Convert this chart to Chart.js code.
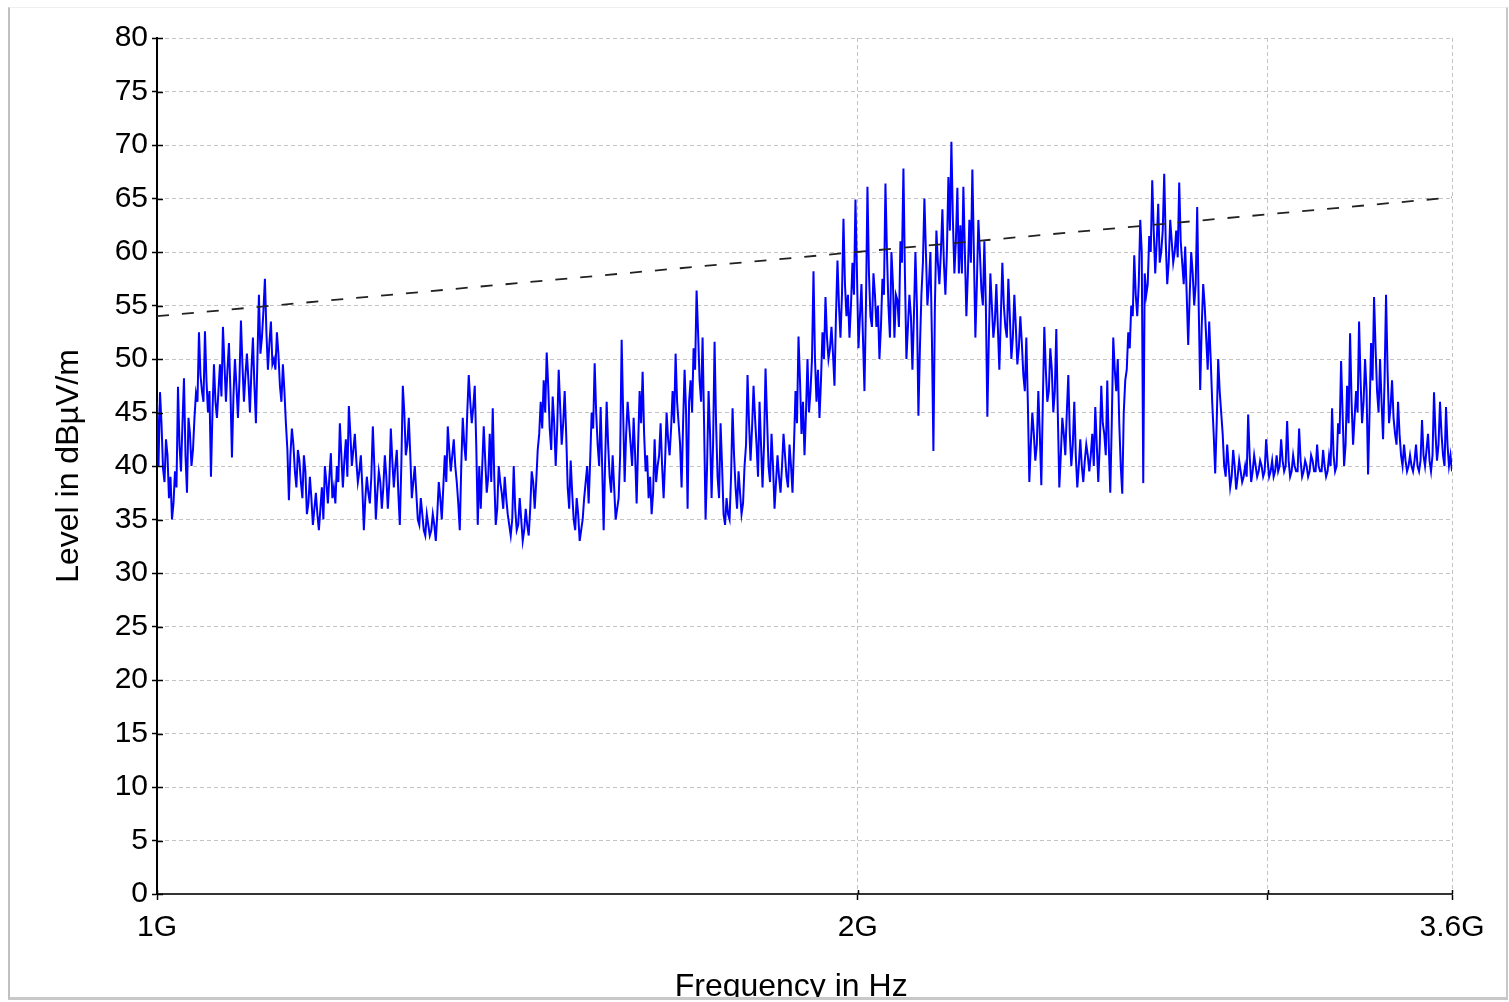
<!DOCTYPE html>
<html>
<head>
<meta charset="utf-8">
<title>Level vs frequency</title>
<script src="https://cdn.jsdelivr.net/npm/chart.js@4.4.1/dist/chart.umd.min.js"></script>
<style>
  html, body { margin: 0; padding: 0; background: #fff; overflow: hidden; }
  #clip { position: absolute; left: 0; top: 0; width: 1509px; height: 997px; overflow: hidden; }
  #frame {
    position: absolute; left: 8px; top: 7px; width: 1496px; height: 989px;
    border-left: 2px solid #c0c0c0; border-right: 2px solid #c8c8c8;
    border-bottom: 3px solid #c8c8c8; border-top: 1px solid #eeeeee;
    pointer-events: none;
  }
</style>
</head>
<body>
<div id="clip"><canvas id="levelChart" width="1509" height="1006"></canvas></div>
<div id="frame"></div>
<script>
// sweep 1 GHz .. 3.6 GHz, log spaced points
const fStart = 1e9;
const fStop = 3.6e9;

const levels = [
  // 1.00 - 1.16 GHz
  46, 46.9, 39.8, 42.5, 37, 35, 39.5, 47.4, 39.5, 48.2,
  37.5, 43, 41.5, 46.8, 52.5, 47, 52.6, 45, 39, 49.5,
  44.5, 49.5, 53, 46, 51.5, 40.8, 50, 44.5, 53.6, 46,
  50.5, 45, 52, 44, 56, 52, 57.5, 49, 53.5, 50,
  52.5, 47.5, 49.5, 44, 36.8, 43.5, 39.5, 41.5, 38.5, 41,
  35.5, 39, 34.5, 37.5, 34,
  // 1.16 - 1.33 GHz
  38, 40, 36.5, 41.2, 38, 40, 44, 38, 42.5, 45.6,
  40, 43, 38.5, 41, 34, 39, 36.5, 43.7, 35, 39.5,
  36, 41, 36, 43.5, 38, 41.5, 34.5, 47.5, 41, 44.5,
  37, 40, 35, 37, 34, 35.5, 33.5, 35.5, 33, 38.5,
  35, 41, 43.7, 39.5, 42.5, 38.5, 34, 44.5, 40.5, 48.5,
  44, 47.5, 34.5,
  // 1.33 - 1.54 GHz
  36, 43.7, 37.5, 43, 45.4, 34.5, 40, 37.5, 39, 35.5,
  33.5, 40, 34, 37, 33, 36, 33.5, 39.5, 36, 41.5,
  46, 48, 50.6, 43.5, 46.5, 40, 49, 42, 47, 38,
  40.5, 35, 37, 33, 35, 38.5, 36.5, 45, 49.6, 42,
  45.5, 34, 46, 39, 41, 35, 37, 51.8, 38.5, 46,
  42, 44.5, 36.5, 47,
  // 1.54 - 1.77 GHz
  48.8, 39.5, 37, 35.5, 42.5, 40, 44, 37, 45, 41,
  47, 50.5, 44, 38, 49, 36, 48, 51, 56.4, 48,
  52, 35, 47, 37, 51.6, 39, 44, 35.5, 37, 35,
  45.4, 38, 39.5, 35.5, 40, 48.5, 40.5, 47.5, 42, 46,
  38, 49.1, 40, 43, 36, 41, 37.5, 43, 39, 42,
  37.5, 47, 52.1,
  // 1.77 - 2.05 GHz
  43, 41, 50, 47, 58.2, 46, 44.5, 52.5, 55.8, 50,
  53, 47.5, 59.2, 52, 63.1, 54, 52, 59, 64.9, 51,
  57, 47, 66.1, 54, 58, 53, 50, 57.5, 66.4, 55,
  60, 52, 55.5, 61, 67.8, 50, 56, 49, 60, 44.7,
  56, 65, 55, 60, 41.4, 62, 57, 64, 56, 67,
  70.3, 58, 66,
  // 2.05 - 2.37 GHz
  62.5, 66.1, 54, 63, 67.7, 52, 63, 56.5, 61, 44.6,
  58, 52, 57, 49, 59, 53, 57.5, 50, 56, 49.5,
  54, 48.5, 52, 38.5, 45, 40.5, 47, 38.2, 53, 46,
  51, 45, 52.8, 38, 44.5, 41, 48.5, 40, 46, 38,
  42.5, 38.5, 42, 39.5, 43, 45.5, 38.5, 47.5, 43, 48,
  37.5, 52, 47,
  // 2.37 - 2.74 GHz
  44, 37.4, 48, 52.5, 55, 59.7, 54, 63, 38.4, 56,
  61.5, 66.7, 58, 64.5, 60, 67.3, 57, 63, 59, 62,
  66.5, 59, 60.5, 51.3, 60, 55, 64.2, 47.1, 57, 52,
  53.5, 46, 39.3, 50, 45, 40, 42, 38, 41.5, 37.8,
  40.5, 38.5, 40, 44.8, 38.5, 41, 39, 40.5, 39, 42.5,
  39, 40.5, 39.5,
  // 2.74 - 3.60 GHz
  39.5, 42.5, 39.5, 44.2, 39, 41, 39.5, 43.5, 39, 40.5,
  39, 41, 39.5, 42, 39.5, 41.5, 39, 41, 45.4, 39.5,
  44, 49.8, 40, 47.5, 52.4, 42, 47, 53.5, 44, 50,
  39.2, 51.5, 55.8, 47, 50, 42.5, 56, 44, 48, 43,
  46, 41, 42, 39.5, 41, 39.5, 42, 39.5, 44.3, 40,
  43, 39.5, 46.9, 40.5, 46, 41, 45.5, 40, 39.5
];

// readings taken halfway between the main grid points
const levelsMid = [
  40, 44, 38.5, 41, 39, 36.5, 38, 42, 44, 41,
  44.5, 40, 44.5, 46, 48.5, 46, 48, 47, 45, 46,
  47, 46.5, 49.5, 49, 47, 46.5, 47.5, 48, 49.5, 48.5,
  48, 49, 47.5, 50, 50.5, 54.5, 52.5, 51.5, 49.5, 49,
  50.5, 46, 47, 41.5, 41, 42, 38, 40.5, 37, 39.5,
  36.5, 37, 36, 35.5, 36,
  35, 38.5, 39, 37, 36.5, 38.5, 41, 40.5, 39, 43,
  41.5, 40.5, 39.5, 38, 37, 37.5, 39, 40, 37.5, 38.5,
  38, 39, 38.5, 40.5, 40, 37.5, 40, 45, 42, 41,
  38.5, 37.5, 34.5, 35.5, 33.5, 34.5, 34, 34.5, 35.5, 37,
  38, 38.5, 41.5, 41, 40, 36.5, 40, 42, 45, 46,
  45.5, 42, 40,
  40, 40.5, 39, 38.5, 39, 36, 38.5, 36, 37, 34.5,
  35, 36, 34.5, 35, 34, 34.5, 36, 38.5, 38.5, 43,
  43.5, 45, 47.5, 41.5, 44, 43.5, 45.5, 44, 43, 36,
  37.5, 34, 35.5, 34, 37, 40, 40.5, 43.5, 45, 40,
  40, 40.5, 42, 37.5, 38, 36, 41, 45, 43, 44,
  40, 41, 42, 44,
  43, 41, 39, 37.5, 38.5, 41, 40, 40.5, 42.5, 43.5,
  44, 46, 42, 44, 45, 46, 45, 49, 52.5, 46,
  44, 40, 43, 42, 44, 37, 40, 34.5, 35.5, 39,
  41, 36, 37.5, 36.5, 42, 44, 43.5, 44.5, 39, 42,
  42, 44.5, 38.5, 40, 38.5, 39, 40, 41, 38, 40,
  42, 44, 48,
  46, 45, 45, 50, 50, 49, 48, 50, 52, 51,
  50.5, 54, 55, 56, 57, 56, 55, 56, 58, 54,
  52, 55, 58, 53, 56, 55, 53, 56, 60, 52,
  57, 56, 53, 59, 58, 53, 54, 54, 55, 51,
  59, 60, 57, 52, 55, 59, 60, 59, 60, 62,
  63, 61, 58,
  58, 60, 58, 59, 60, 57, 60, 55, 55, 52,
  55, 53.5, 53, 54, 55, 52, 54, 52, 53, 51,
  51.5, 47, 46, 42, 43, 42, 43, 46, 49, 47,
  49, 47, 45, 41, 43, 45, 43, 42, 41, 40,
  40, 40.5, 41, 41, 40, 42, 42, 44, 41, 42,
  44, 49, 50,
  40, 45, 49, 51, 54, 56, 57, 60, 58, 57,
  60, 62, 61, 59, 62, 61, 59, 61, 60, 59.5,
  61, 57, 56, 56, 58, 57, 55, 53, 55, 49,
  50, 43, 44, 47, 43, 39, 40, 39, 40, 39,
  39.5, 39, 39, 41, 39.5, 40, 39.5, 40, 39.5, 40.5,
  39.5, 39, 41,
  40, 40.5, 40, 40.5, 39.5, 40, 39.5, 40.5, 39.5, 40,
  39.5, 40.5, 39.5, 40, 39.5, 40, 39.5, 40, 41, 40,
  43, 45, 42, 44, 46, 44.5, 45, 48, 46, 47,
  45, 48, 51, 45, 46, 48, 49, 45.5, 44.5, 42,
  43, 40, 40.5, 40, 40, 40.5, 40, 40.5, 41, 41.5,
  40.5, 41, 43, 42, 43, 40, 42, 41
];

// limit line (dashed)
const limitFreqs = [1e9, 3.6e9];
const limitLevels = [54, 65.1];

// axis ticks
const xTickValues = [1e9, 2e9, 3e9, 3.6e9];
const xTickLabels = ['1G', '2G', '', '3.6G'];
const yMin = 0;
const yMax = 80;
const yStep = 2.5;

// put main and in-between readings in sweep order
const sweep = [];
levels.forEach((v, i) => {
  sweep.push(v);
  if (i < levelsMid.length) sweep.push(levelsMid[i]);
});
const nPts = sweep.length;
const tracePts = sweep.map((v, i) => ({x: fStart * Math.pow(fStop / fStart, i / (nPts - 1)), y: v}));
const limitPts = limitLevels.map((v, i) => ({x: limitFreqs[i], y: v}));

const tickFont = {family: '"Liberation Sans", Arial, sans-serif', size: 30};
const titleFont = {family: '"Liberation Sans", Arial, sans-serif', size: 32};

// small tick marks that cross the axis lines, like the original plot
const crossTicks = {
  id: 'crossTicks',
  afterDatasetsDraw(chart) {
    const {ctx, scales: {x, y}, chartArea} = chart;
    ctx.save();
    ctx.strokeStyle = '#000';
    ctx.lineWidth = 1.5;
    ctx.beginPath();
    y.ticks.forEach(t => {
      const py = Math.round(y.getPixelForValue(t.value)) + 0.5;
      ctx.moveTo(chartArea.left, py);
      ctx.lineTo(chartArea.left + 6, py);
    });
    x.ticks.forEach(t => {
      const px = Math.round(x.getPixelForValue(t.value)) + 0.5;
      ctx.moveTo(px, chartArea.bottom);
      ctx.lineTo(px, chartArea.bottom - 4);
    });
    ctx.stroke();
    ctx.restore();
  }
};

const ctx = document.getElementById('levelChart').getContext('2d');
const levelChart = new Chart(ctx, {
  type: 'line',
  data: {
    datasets: [
      {
        label: 'Limit',
        data: limitPts,
        borderColor: '#222222',
        borderWidth: 1.8,
        borderDash: [12, 13],
        pointRadius: 0,
        fill: false,
        order: 0
      },
      {
        label: 'Level',
        data: tracePts,
        borderColor: '#0000ff',
        borderWidth: 2,
        pointRadius: 0,
        tension: 0,
        fill: false,
        order: 1
      }
    ]
  },
  options: {
    responsive: false,
    animation: false,
    events: [],
    layout: {padding: {left: 0, right: 57, top: 38, bottom: 0}},
    plugins: {legend: {display: false}, tooltip: {enabled: false}},
    scales: {
      x: {
        type: 'logarithmic',
        min: fStart,
        max: fStop,
        afterBuildTicks: (scale) => { scale.ticks = xTickValues.map(v => ({value: v})); },
        afterFit: (scale) => { scale.height = 112; },
        ticks: {
          autoSkip: false,
          maxRotation: 0,
          padding: 10,
          color: '#000',
          font: tickFont,
          callback: (val, idx) => xTickLabels[idx]
        },
        grid: {color: '#c4c4c4', lineWidth: 1, tickLength: 6, tickColor: '#000', tickWidth: 1.5},
        border: {color: '#333', width: 2, dash: [4, 3]},
        title: {display: true, text: 'Frequency in Hz\u00a0\u00a0\u00a0', color: '#000', font: titleFont, padding: 0}
      },
      y: {
        min: yMin,
        max: yMax,
        afterFit: (scale) => { scale.width = 157; },
        ticks: {
          stepSize: yStep,
          padding: 4,
          color: '#000',
          font: tickFont,
          callback: (v) => (v % 5 === 0 ? String(v) : '')
        },
        grid: {color: '#c4c4c4', lineWidth: 1, tickLength: 5, tickColor: '#000', tickWidth: 1.5},
        border: {color: '#000', width: 2, dash: [4, 3]},
        title: {display: true, text: 'Level in dBµV/m', color: '#000', font: titleFont, padding: {top: 50, bottom: 0}}
      }
    }
  },
  plugins: [crossTicks]
});
</script>
</body>
</html>
